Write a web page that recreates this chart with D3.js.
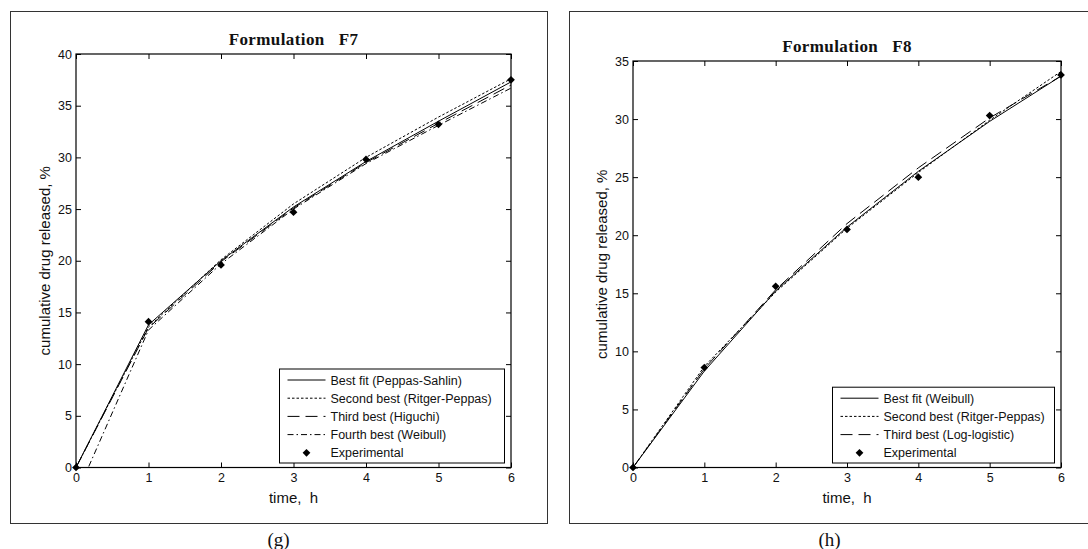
<!DOCTYPE html>
<html>
<head>
<meta charset="utf-8">
<script src="https://cdn.jsdelivr.net/npm/d3@7"></script>
<style>
  html, body { margin: 0; padding: 0; background: #fff; }
  svg { display: block; }
  .tick-lbl { font-family: "Liberation Sans", Arial, sans-serif; font-size: 12.5px; fill: #111; }
  .ax-lbl { font-family: "Liberation Sans", Arial, sans-serif; font-size: 15px; fill: #111; }
  .titulo { font-family: "Liberation Serif", "DejaVu Serif", serif; font-size: 17px; font-weight: bold; fill: #111; letter-spacing: 0.4px; }
  .cap { font-family: "Liberation Serif", "DejaVu Serif", serif; font-size: 19px; fill: #111; }
  .ley { font-family: "Liberation Sans", Arial, sans-serif; font-size: 12.5px; fill: #111; }
</style>
</head>
<body>
<svg id="lienzo" width="1088" height="549"></svg>
<script>
// datos, tiempo en horas y liberacion acumulada en %
var tiempo = [0, 1, 2, 3, 4, 5, 6];

// formulacion F7
var f7Experimental = [0, 14.1, 19.6, 24.7, 29.8, 33.2, 37.5];
var f7PeppasSahlin = [0, 13.8, 20.0, 25.2, 29.6, 33.5, 37.3];
var f7RitgerPeppas = [0, 13.6, 20.1, 25.5, 30.0, 33.9, 37.6];
var f7Higuchi = [0, 13.5, 19.9, 25.1, 29.5, 33.3, 37.0];
// weibull arranca tarde (tiempo de latencia)
var f7WeibullT = [0, 0.17, 1, 2, 3, 4, 5, 6];
var f7Weibull = [0, 0, 13.3, 19.7, 25.0, 29.4, 33.1, 36.7];

// formulacion F8
var f8Experimental = [0, 8.6, 15.6, 20.5, 25.0, 30.3, 33.8];
var f8Weibull = [0, 8.3, 15.2, 20.7, 25.5, 29.8, 33.7];
var f8RitgerPeppas = [0, 8.7, 15.1, 20.6, 25.4, 29.9, 34.1];
var f8LogLogistic = [0, 8.5, 15.3, 21.0, 25.8, 30.1, 33.7];

var xTicks = [0, 1, 2, 3, 4, 5, 6];
var f7YTicks = [0, 5, 10, 15, 20, 25, 30, 35, 40];
var f8YTicks = [0, 5, 10, 15, 20, 25, 30, 35];

var f7Leyenda = ["Best fit (Peppas-Sahlin)", "Second best (Ritger-Peppas)", "Third best (Higuchi)", "Fourth best (Weibull)", "Experimental"];
var f8Leyenda = ["Best fit (Weibull)", "Second best (Ritger-Peppas)", "Third best (Log-logistic)", "Experimental"];

// estilos de linea tipo matlab: solida, punteada, rayada larga, raya-punto
var TRAZOS = [null, "2.5,2", "12,6", "6,3,1.5,3"];

var svg = d3.select("#lienzo");
var entero = d3.format("d");

function pares(ts, vs) {
  return ts.map(function (t, i) { return [t, vs[i]]; });
}

function panel(cfg) {
  var x = d3.scaleLinear().domain([0, 6]).range([cfg.izq, cfg.der]);
  var y = d3.scaleLinear().domain([0, cfg.yMax]).range([cfg.abajo, cfg.arriba]);
  var g = svg.append("g");

  // caja exterior de la figura
  g.append("rect")
    .attr("x", cfg.caja[0] + 0.5).attr("y", cfg.caja[1] + 0.5)
    .attr("width", cfg.caja[2] - cfg.caja[0]).attr("height", cfg.caja[3] - cfg.caja[1])
    .attr("fill", "none").attr("stroke", "#333").attr("stroke-width", 1);

  // curvas de los modelos
  var linea = d3.line()
    .x(function (d) { return x(d[0]); })
    .y(function (d) { return y(d[1]); });
  cfg.series.forEach(function (s, i) {
    g.append("path")
      .datum(pares(s.t, s.v))
      .attr("d", linea)
      .attr("fill", "none")
      .attr("stroke", "#000")
      .attr("stroke-width", 1)
      .attr("stroke-dasharray", TRAZOS[i]);
  });

  // puntos experimentales: cuadrado girado 45 grados
  var rombo = d3.symbol().type(d3.symbolSquare).size(30);
  g.selectAll("path.exp").data(pares(tiempo, cfg.experimental)).enter()
    .append("path").attr("class", "exp")
    .attr("d", rombo)
    .attr("transform", function (d) { return "translate(" + x(d[0]) + "," + y(d[1]) + ") rotate(45)"; })
    .attr("fill", "#000");

  // ejes con ticks hacia adentro en los cuatro lados
  var ejeAbajo = g.append("g").attr("transform", "translate(0," + cfg.abajo + ")")
    .call(d3.axisBottom(x).tickValues(xTicks).tickFormat(entero).tickSizeInner(-5).tickSizeOuter(0).tickPadding(4));
  var ejeArriba = g.append("g").attr("transform", "translate(0," + cfg.arriba + ")")
    .call(d3.axisTop(x).tickValues(xTicks).tickSizeInner(-5).tickSizeOuter(0).tickFormat(""));
  var ejeIzq = g.append("g").attr("transform", "translate(" + cfg.izq + ",0)")
    .call(d3.axisLeft(y).tickValues(cfg.yTicks).tickFormat(entero).tickSizeInner(-5).tickSizeOuter(0).tickPadding(4));
  var ejeDer = g.append("g").attr("transform", "translate(" + cfg.der + ",0)")
    .call(d3.axisRight(y).tickValues(cfg.yTicks).tickSizeInner(-5).tickSizeOuter(0).tickFormat(""));
  [ejeAbajo, ejeArriba, ejeIzq, ejeDer].forEach(function (e) {
    e.select(".domain").remove();
    e.selectAll("line").attr("stroke", "#000");
    e.selectAll("text").attr("class", "tick-lbl").attr("font-family", null).attr("font-size", null);
  });
  ejeAbajo.selectAll("text").attr("dy", "0.85em");

  g.append("rect")
    .attr("x", cfg.izq).attr("y", cfg.arriba)
    .attr("width", cfg.der - cfg.izq).attr("height", cfg.abajo - cfg.arriba)
    .attr("fill", "none").attr("stroke", "#000").attr("stroke-width", 1.2);

  // leyenda
  var filaH = 18.2;
  var n = cfg.leyenda.length;
  var lw = cfg.leyAncho;
  var lh = n * filaH + 3;
  var lx = cfg.der - 6.5 - lw;
  var ly = cfg.abajo - 4.5 - lh;
  var ley = g.append("g").attr("transform", "translate(" + lx + "," + ly + ")");
  ley.append("rect").attr("width", lw).attr("height", lh)
    .attr("fill", "#fff").attr("stroke", "#000").attr("stroke-width", 1);
  cfg.leyenda.forEach(function (txt, i) {
    var cy = 11 + i * filaH;
    if (i < n - 1) {
      ley.append("line").attr("x1", 8).attr("x2", 46).attr("y1", cy).attr("y2", cy)
        .attr("stroke", "#000").attr("stroke-width", 1).attr("stroke-dasharray", TRAZOS[i]);
    } else {
      ley.append("path").attr("d", rombo).attr("transform", "translate(27," + cy + ") rotate(45)").attr("fill", "#000");
    }
    ley.append("text").attr("class", "ley").attr("x", 51).attr("y", cy + 4.5).text(txt);
  });

  // titulos y etiquetas
  var cx = (cfg.izq + cfg.der) / 2;
  g.append("text").attr("class", "titulo").attr("x", cx).attr("y", cfg.arriba - 9)
    .attr("text-anchor", "middle").attr("xml:space", "preserve").text(cfg.titulo);
  g.append("text").attr("class", "ax-lbl").attr("x", cx).attr("y", 503)
    .attr("text-anchor", "middle").attr("xml:space", "preserve").text("time,  h");
  g.append("text").attr("class", "ax-lbl")
    .attr("transform", "translate(" + (cfg.izq - 26) + "," + ((cfg.arriba + cfg.abajo) / 2) + ") rotate(-90)")
    .attr("text-anchor", "middle").text("cumulative drug released, %");
  g.append("text").attr("class", "cap").attr("x", (cfg.caja[0] + cfg.caja[2]) / 2).attr("y", 546)
    .attr("text-anchor", "middle").text(cfg.letra);
}

panel({
  izq: 76, der: 511, arriba: 54, abajo: 467.5,
  caja: [10, 11, 547, 523],
  yMax: 40, yTicks: f7YTicks,
  titulo: "Formulation   F7", letra: "(g)",
  experimental: f7Experimental,
  series: [
    { t: tiempo, v: f7PeppasSahlin },
    { t: tiempo, v: f7RitgerPeppas },
    { t: tiempo, v: f7Higuchi },
    { t: f7WeibullT, v: f7Weibull }
  ],
  leyenda: f7Leyenda, leyAncho: 225
});

panel({
  izq: 633, der: 1061, arriba: 61, abajo: 467.5,
  caja: [569, 11, 1090, 523],
  yMax: 35, yTicks: f8YTicks,
  titulo: "Formulation   F8", letra: "(h)",
  experimental: f8Experimental,
  series: [
    { t: tiempo, v: f8Weibull },
    { t: tiempo, v: f8RitgerPeppas },
    { t: tiempo, v: f8LogLogistic }
  ],
  leyenda: f8Leyenda, leyAncho: 222
});
</script>
</body>
</html>
